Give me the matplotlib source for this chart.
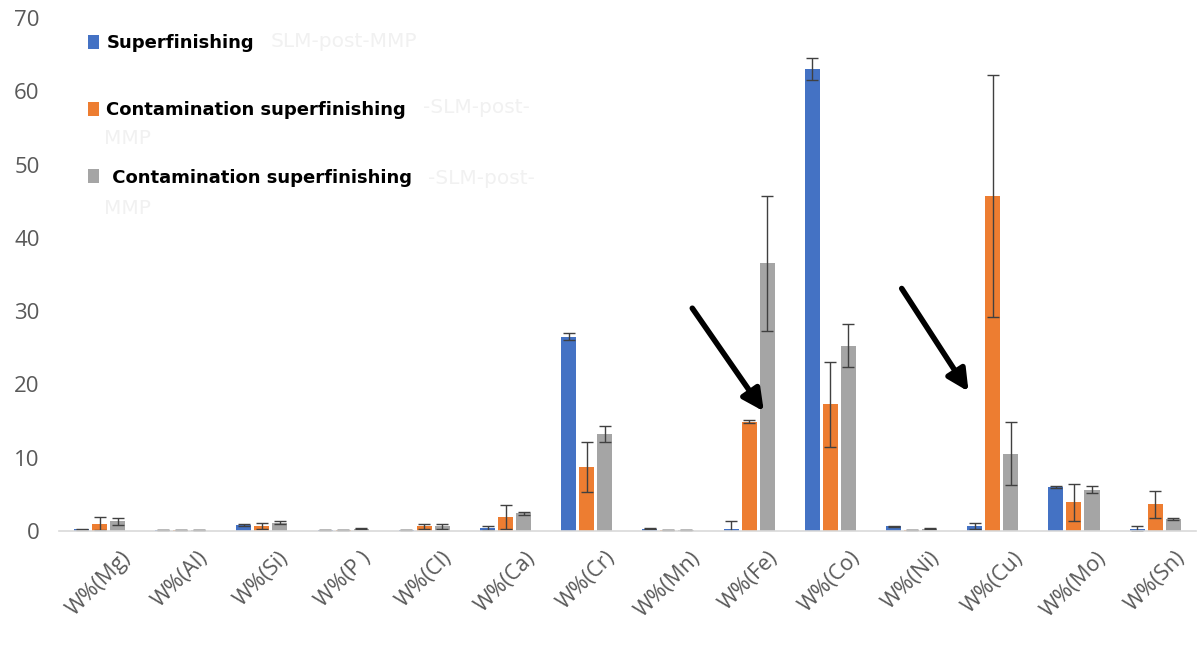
import matplotlib.pyplot as plt
import numpy as np

# Data
elements = ['W%(Mg)', 'W%(Al)', 'W%(Si)', 'W%(P )', 'W%(Cl)', 'W%(Ca)', 'W%(Cr)',
            'W%(Mn)', 'W%(Fe)', 'W%(Co)', 'W%(Ni)', 'W%(Cu)', 'W%(Mo)', 'W%(Sn)']
superfinishing = [0.2, 0.1, 0.8, 0.1, 0.1, 0.4, 26.5, 0.3, 0.3, 63.0, 0.6, 0.7, 6.0, 0.3]
superfinishing_err = [0.05, 0.05, 0.1, 0.05, 0.05, 0.3, 0.5, 0.1, 1.0, 1.5, 0.1, 0.4, 0.15, 0.3]
contamination1 = [1.0, 0.1, 0.7, 0.1, 0.6, 1.9, 8.7, 0.1, 14.9, 17.3, 0.1, 45.7, 3.9, 3.6]
contamination1_err = [0.9, 0.05, 0.4, 0.05, 0.4, 1.6, 3.4, 0.05, 0.2, 5.8, 0.05, 16.5, 2.5, 1.8]
contamination2 = [1.3, 0.1, 1.1, 0.3, 0.6, 2.4, 13.2, 0.1, 36.5, 25.3, 0.3, 10.5, 5.6, 1.6]
contamination2_err = [0.5, 0.05, 0.2, 0.1, 0.4, 0.2, 1.1, 0.05, 9.2, 3.0, 0.1, 4.3, 0.5, 0.15]

labels = ['Superfinishing', 'Contamination superfinishing', ' Contamination superfinishing']
colors = ['#4472C4', '#ED7D31', '#A5A5A5']

fig = plt.figure(figsize=(12.03, 6.45), dpi=100)
ax = fig.add_axes([0.049, 0.177, 0.945, 0.795])

x = np.arange(len(elements))
width = 0.185
step = 0.222
err_style = dict(ecolor='#404040', elinewidth=1, capsize=4, capthick=1)

series = [(superfinishing, superfinishing_err),
          (contamination1, contamination1_err),
          (contamination2, contamination2_err)]
for i, (vals, errs) in enumerate(series):
    ax.bar(x + (i - 1) * step, vals, width, yerr=errs, color=colors[i],
           label=labels[i], error_kw=err_style)

ax.set_xlim(-0.5, len(elements) - 0.5)
ax.set_ylim(0, 70)
ax.set_yticks(range(0, 71, 10))
ax.set_xticks(x)
ax.set_xticklabels(elements, rotation=45, ha='center', va='top',
                   fontsize=15.5, color='#595959', family='Open Sans')
for t in ax.get_yticklabels():
    t.set_fontsize(16)
    t.set_color('#595959')
    t.set_family('Open Sans')
ax.tick_params(axis='x', length=0, pad=12)
ax.tick_params(axis='y', length=0, pad=14)

for s in ['top', 'right', 'left']:
    ax.spines[s].set_visible(False)
ax.spines['bottom'].set_color('#d9d9d9')
ax.spines['bottom'].set_linewidth(1.2)

# Arrows
ax.annotate('', xy=(8.2, 16.0), xytext=(7.28, 30.7),
            arrowprops=dict(arrowstyle='-|>', color='black', lw=4, mutation_scale=32))
ax.annotate('', xy=(10.72, 18.7), xytext=(9.86, 33.4),
            arrowprops=dict(arrowstyle='-|>', color='black', lw=4, mutation_scale=32))

# Legend
leg = ax.legend(loc='upper left', bbox_to_anchor=(0.011, 1.0), frameon=False,
                handlelength=0.62, handleheight=0.85, handletextpad=0.42,
                labelspacing=2.72, prop={'weight': 'bold', 'size': 13})

# faint leftover text behind the legend
ghost = '#f1f1f1'
ax.text(0.186, 0.955, 'SLM-post-MMP', transform=ax.transAxes, color=ghost,
        fontsize=14.5, va='center')
ax.text(0.32, 0.826, '-SLM-post-', transform=ax.transAxes, color=ghost,
        fontsize=14.5, va='center')
ax.text(0.04, 0.765, 'MMP', transform=ax.transAxes, color=ghost,
        fontsize=14.5, va='center')
ax.text(0.325, 0.688, '-SLM-post-', transform=ax.transAxes, color=ghost,
        fontsize=14.5, va='center')
ax.text(0.04, 0.628, 'MMP', transform=ax.transAxes, color=ghost,
        fontsize=14.5, va='center')

fig.savefig('out.png', dpi=100)
